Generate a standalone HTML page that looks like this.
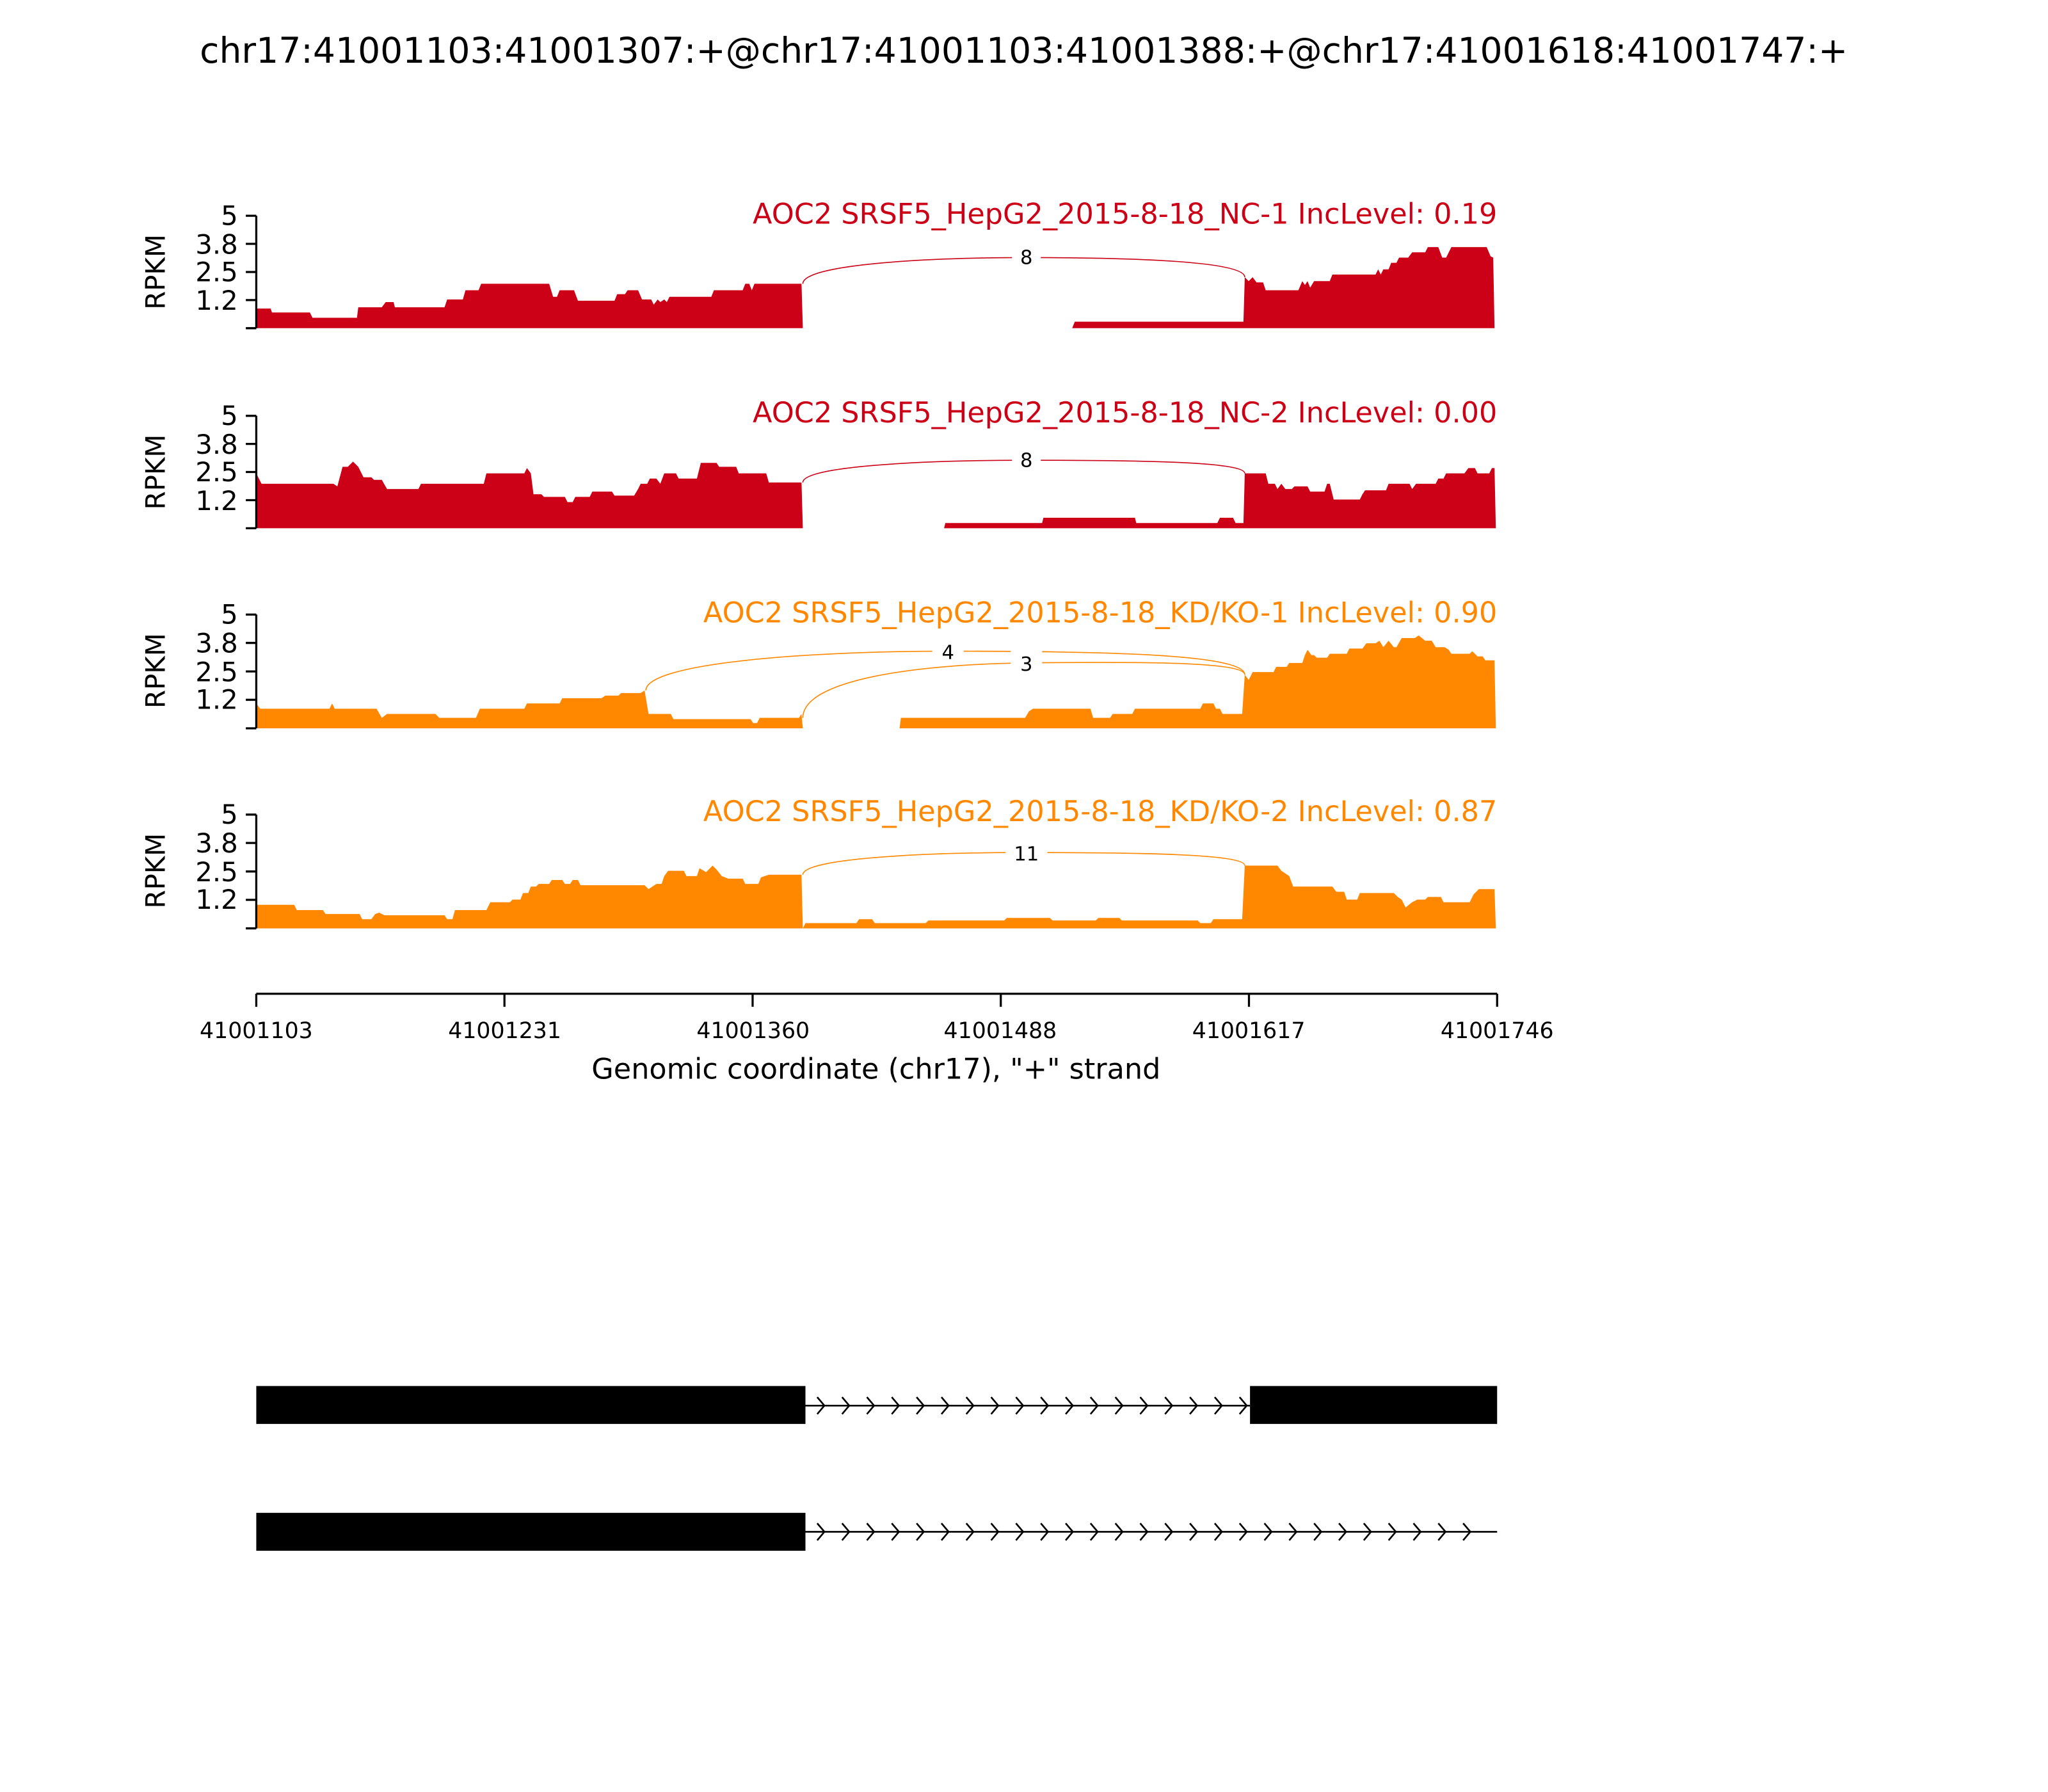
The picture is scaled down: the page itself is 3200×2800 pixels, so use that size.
<!DOCTYPE html>
<html><head><meta charset="utf-8"><style>html,body{margin:0;padding:0;background:#fff}svg{display:block}</style></head>
<body>
<svg width="3200" height="2800" viewBox="0 0 1566.3 1370.5" preserveAspectRatio="none" xmlns="http://www.w3.org/2000/svg" font-family="'DejaVu Sans','Liberation Sans',sans-serif">
<text x="783" y="48" font-size="27" text-anchor="middle">chr17:41001103:41001307:+@chr17:41001103:41001388:+@chr17:41001618:41001747:+</text>

<!-- Panel 1 -->
<g>
<path fill="#cc0016" d="M196,251 L196,236 L207,236 L208,239 L237,239 L239,243 L273,243 L274,235 L292,235 L295,231 L301,231 L302,235 L340,235 L342,229 L354,229 L356,222 L366,222 L368,217 L420,217 L423,227 L426,227 L428,222 L439,222 L442,230 L470,230 L472,225 L478,225 L480,222 L488,222 L491,229 L498,229 L500,233 L503,229 L505,231 L508,229 L510,231 L512,227 L544,227 L546,222 L568,222 L570,217 L573,217 L575,222 L577,217 L613,217 L614,251 L820,251 L822,246 L951,246 L952,212 L955,215 L958,212 L961,216 L966,216 L968,222 L993,222 L996,215 L998,218 L1000,215 L1002,220 L1005,215 L1017,215 L1019,210 L1052,210 L1054,206 L1056,210 L1058,206 L1062,206 L1064,201 L1068,201 L1070,197 L1077,197 L1080,193 L1090,193 L1092,189 L1100,189 L1103,197 L1106,197 L1110,189 L1137,189 L1140,196 L1142,197 L1143,251 Z"/>
<path fill="none" stroke="#cc0016" stroke-width="0.8" d="M614,217 C614,203 700,197 785,197 C870,197 952,200 952,212"/>
<rect x="774" y="186" width="22" height="20" fill="#fff"/>
<text x="785" y="202" font-size="15" text-anchor="middle">8</text>
<text x="1145" y="171" font-size="21.8" fill="#cc0016" text-anchor="end">AOC2 SRSF5_HepG2_2015-8-18_NC-1 IncLevel: 0.19</text>
</g>

<!-- Panel 2 -->
<g>
<path fill="#cc0016" d="M196,404 L196,362 L200,370 L255,370 L258,372 L262,357 L266,357 L270,353 L274,357 L278,365 L284,365 L286,367 L292,367 L296,374 L320,374 L322,370 L370,370 L372,362 L401,362 L403,358 L406,362 L408,378 L414,378 L416,380 L432,380 L434,384 L438,384 L440,380 L451,380 L453,376 L468,376 L470,379 L485,379 L488,374 L490,370 L495,370 L497,366 L502,366 L505,370 L508,362 L517,362 L519,366 L533,366 L536,354 L548,354 L550,357 L563,357 L565,362 L586,362 L588,369 L613,369 L614,404 L722,404 L723,400 L797,400 L798,396 L868,396 L869,400 L931,400 L933,396 L943,396 L945,400 L951,400 L952,362 L968,362 L970,370 L975,370 L977,374 L980,370 L983,374 L988,374 L990,372 L1000,372 L1002,376 L1013,376 L1015,370 L1017,370 L1020,382 L1040,382 L1042,378 L1044,375 L1060,375 L1062,370 L1078,370 L1080,374 L1083,370 L1098,370 L1100,366 L1104,366 L1106,362 L1120,362 L1123,358 L1128,358 L1130,362 L1139,362 L1141,358 L1143,358 L1144,404 Z"/>
<path fill="none" stroke="#cc0016" stroke-width="0.8" d="M614,369 C614,357 700,352 785,352 C870,352 952,353 952,362"/>
<rect x="774" y="341" width="22" height="20" fill="#fff"/>
<text x="785" y="357" font-size="15" text-anchor="middle">8</text>
<text x="1145" y="323" font-size="21.8" fill="#cc0016" text-anchor="end">AOC2 SRSF5_HepG2_2015-8-18_NC-2 IncLevel: 0.00</text>
</g>

<!-- Panel 3 -->
<g>
<path fill="#ff8800" d="M196,557 L196,538 L199,542 L252,542 L254,538 L256,542 L288,542 L292,549 L296,546 L333,546 L336,549 L364,549 L367,542 L401,542 L403,538 L428,538 L430,534 L460,534 L463,532 L473,532 L475,530 L490,530 L493,528 L496,546 L513,546 L515,550 L574,550 L576,553 L579,553 L581,549 L611,549 L613,546 L614,557 L688,557 L689,549 L784,549 L787,544 L790,542 L834,542 L836,549 L849,549 L851,546 L866,546 L868,542 L918,542 L920,538 L928,538 L930,542 L933,542 L935,546 L950,546 L952,516 L955,520 L958,514 L974,514 L976,510 L984,510 L986,507 L996,507 L998,501 L1000,497 L1003,501 L1005,501 L1007,503 L1015,503 L1017,500 L1030,500 L1032,496 L1042,496 L1045,492 L1052,492 L1055,490 L1058,495 L1062,490 L1066,495 L1068,495 L1072,488 L1082,488 L1085,486 L1090,490 L1095,490 L1098,495 L1105,495 L1108,497 L1110,500 L1124,500 L1126,498 L1130,502 L1134,502 L1136,505 L1143,505 L1144,557 Z"/>
<path fill="none" stroke="#ff8800" stroke-width="0.8" d="M494,528 C494,508 610,498 725,498 C840,498 952,500 952,516"/>
<path fill="none" stroke="#ff8800" stroke-width="0.8" d="M614,549 C614,520 700,508 785,507 C870,506 952,506 952,516"/>
<rect x="713" y="488" width="24" height="19" fill="#fff"/>
<text x="725" y="504" font-size="15" text-anchor="middle">4</text>
<rect x="773" y="497" width="24" height="19" fill="#fff"/>
<text x="785" y="513" font-size="15" text-anchor="middle">3</text>
<text x="1145" y="476" font-size="21.8" fill="#ff8800" text-anchor="end">AOC2 SRSF5_HepG2_2015-8-18_KD/KO-1 IncLevel: 0.90</text>
</g>

<!-- Panel 4 -->
<g>
<path fill="#ff8800" d="M196,710 L196,692 L225,692 L227,696 L247,696 L249,699 L275,699 L277,703 L284,703 L287,699 L290,698 L294,700 L340,700 L342,703 L346,703 L348,696 L372,696 L375,690 L390,690 L392,688 L398,688 L400,683 L404,683 L406,678 L410,678 L412,676 L420,676 L422,673 L430,673 L432,676 L436,676 L438,673 L442,673 L444,677 L493,677 L496,680 L502,676 L506,676 L508,670 L511,666 L523,666 L525,670 L533,670 L535,664 L540,667 L545,662 L548,665 L552,670 L557,672 L568,672 L570,676 L580,676 L582,671 L588,669 L613,669 L614,710 L616,706 L655,706 L657,703 L667,703 L669,706 L708,706 L710,704 L768,704 L770,702 L803,702 L805,704 L838,704 L840,702 L856,702 L858,704 L916,704 L918,706 L926,706 L928,703 L950,703 L952,662 L977,662 L980,666 L986,670 L989,678 L1019,678 L1022,682 L1028,682 L1030,688 L1038,688 L1040,683 L1066,683 L1069,686 L1072,688 L1075,694 L1080,690 L1084,688 L1090,688 L1092,686 L1102,686 L1104,690 L1124,690 L1127,684 L1131,680 L1143,680 L1144,710 Z"/>
<path fill="none" stroke="#ff8800" stroke-width="0.8" d="M614,669 C614,657 700,652 785,652 C870,652 952,653 952,662"/>
<rect x="769" y="642" width="32" height="19" fill="#fff"/>
<text x="785" y="658" font-size="15" text-anchor="middle">11</text>
<text x="1145" y="628" font-size="21.8" fill="#ff8800" text-anchor="end">AOC2 SRSF5_HepG2_2015-8-18_KD/KO-2 IncLevel: 0.87</text>
</g>

<!-- Y axes -->
<g stroke="#000" stroke-width="1.6" fill="none">
<path d="M196,165 V251 M188,165 H196 M188,186.5 H196 M188,208 H196 M188,229.5 H196 M188,251 H196"/>
<path d="M196,318 V404 M188,318 H196 M188,339.5 H196 M188,361 H196 M188,382.5 H196 M188,404 H196"/>
<path d="M196,470 V557 M188,470 H196 M188,491.7 H196 M188,513.5 H196 M188,535.2 H196 M188,557 H196"/>
<path d="M196,623 V710 M188,623 H196 M188,644.7 H196 M188,666.5 H196 M188,688.2 H196 M188,710 H196"/>
</g>
<g font-size="20.5" text-anchor="end">
<text x="182" y="172">5</text><text x="182" y="194">3.8</text><text x="182" y="215">2.5</text><text x="182" y="237">1.2</text>
<text x="182" y="325">5</text><text x="182" y="347">3.8</text><text x="182" y="368">2.5</text><text x="182" y="390">1.2</text>
<text x="182" y="477">5</text><text x="182" y="499">3.8</text><text x="182" y="521">2.5</text><text x="182" y="542">1.2</text>
<text x="182" y="630">5</text><text x="182" y="652">3.8</text><text x="182" y="674">2.5</text><text x="182" y="695">1.2</text>
</g>
<g font-size="20.5" text-anchor="middle">
<text transform="translate(126,208) rotate(-90)">RPKM</text>
<text transform="translate(126,361) rotate(-90)">RPKM</text>
<text transform="translate(126,513) rotate(-90)">RPKM</text>
<text transform="translate(126,666) rotate(-90)">RPKM</text>
</g>

<!-- X axis -->
<g stroke="#000" stroke-width="1.6">
<path d="M196,760 H1145 M196,760 V770 M385.8,760 V770 M575.6,760 V770 M765.4,760 V770 M955.2,760 V770 M1145,760 V770"/>
</g>
<g font-size="17" text-anchor="middle">
<text x="196" y="794">41001103</text><text x="386" y="794">41001231</text><text x="576" y="794">41001360</text>
<text x="765" y="794">41001488</text><text x="955" y="794">41001617</text><text x="1145" y="794">41001746</text>
</g>
<text x="670" y="825" font-size="21.8" text-anchor="middle">Genomic coordinate (chr17), "+" strand</text>

<!-- Gene structures -->
<rect x="196" y="1060" width="420" height="29" fill="#000"/>
<rect x="956" y="1060" width="189" height="29" fill="#000"/>
<line x1="616" y1="1075" x2="956" y2="1075" stroke="#000" stroke-width="1.3"/>
<path fill="none" stroke="#000" stroke-width="1.3" d="M625,1068.5 l5.5,6.5 l-5.5,6.5 M644,1068.5 l5.5,6.5 l-5.5,6.5 M663,1068.5 l5.5,6.5 l-5.5,6.5 M682,1068.5 l5.5,6.5 l-5.5,6.5 M701,1068.5 l5.5,6.5 l-5.5,6.5 M720,1068.5 l5.5,6.5 l-5.5,6.5 M739,1068.5 l5.5,6.5 l-5.5,6.5 M758,1068.5 l5.5,6.5 l-5.5,6.5 M777,1068.5 l5.5,6.5 l-5.5,6.5 M796,1068.5 l5.5,6.5 l-5.5,6.5 M815,1068.5 l5.5,6.5 l-5.5,6.5 M834,1068.5 l5.5,6.5 l-5.5,6.5 M853,1068.5 l5.5,6.5 l-5.5,6.5 M872,1068.5 l5.5,6.5 l-5.5,6.5 M891,1068.5 l5.5,6.5 l-5.5,6.5 M910,1068.5 l5.5,6.5 l-5.5,6.5 M929,1068.5 l5.5,6.5 l-5.5,6.5 M948,1068.5 l5.5,6.5 l-5.5,6.5"/>

<rect x="196" y="1157" width="420" height="29" fill="#000"/>
<line x1="616" y1="1171.5" x2="1145" y2="1171.5" stroke="#000" stroke-width="1.3"/>
<path fill="none" stroke="#000" stroke-width="1.3" d="M625,1165 l5.5,6.5 l-5.5,6.5 M644,1165 l5.5,6.5 l-5.5,6.5 M663,1165 l5.5,6.5 l-5.5,6.5 M682,1165 l5.5,6.5 l-5.5,6.5 M701,1165 l5.5,6.5 l-5.5,6.5 M720,1165 l5.5,6.5 l-5.5,6.5 M739,1165 l5.5,6.5 l-5.5,6.5 M758,1165 l5.5,6.5 l-5.5,6.5 M777,1165 l5.5,6.5 l-5.5,6.5 M796,1165 l5.5,6.5 l-5.5,6.5 M815,1165 l5.5,6.5 l-5.5,6.5 M834,1165 l5.5,6.5 l-5.5,6.5 M853,1165 l5.5,6.5 l-5.5,6.5 M872,1165 l5.5,6.5 l-5.5,6.5 M891,1165 l5.5,6.5 l-5.5,6.5 M910,1165 l5.5,6.5 l-5.5,6.5 M929,1165 l5.5,6.5 l-5.5,6.5 M948,1165 l5.5,6.5 l-5.5,6.5 M967,1165 l5.5,6.5 l-5.5,6.5 M986,1165 l5.5,6.5 l-5.5,6.5 M1005,1165 l5.5,6.5 l-5.5,6.5 M1024,1165 l5.5,6.5 l-5.5,6.5 M1043,1165 l5.5,6.5 l-5.5,6.5 M1062,1165 l5.5,6.5 l-5.5,6.5 M1081,1165 l5.5,6.5 l-5.5,6.5 M1100,1165 l5.5,6.5 l-5.5,6.5 M1119,1165 l5.5,6.5 l-5.5,6.5"/>
</svg>
</body></html>
